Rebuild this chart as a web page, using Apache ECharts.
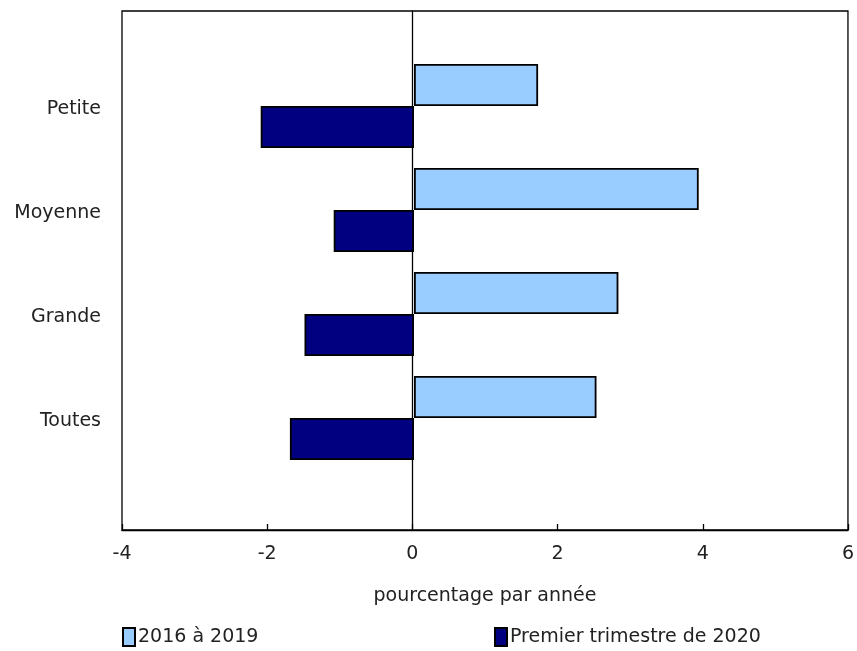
<!DOCTYPE html>
<html>
<head>
<meta charset="utf-8">
<script src="https://cdn.jsdelivr.net/npm/echarts@6/dist/echarts.min.js"></script>
<style>html,body{margin:0;padding:0;background:#fff}#c{width:857px;height:651px}</style>
</head>
<body>
<div id="c"></div>
<script>
const categories = ["Petite", "Moyenne", "Grande", "Toutes"];
const series2016to2019 = [1.7, 3.9, 2.8, 2.5];
const seriesQ1_2020 = [-2.1, -1.1, -1.5, -1.7];
const seriesNames = ["2016 à 2019", "Premier trimestre de 2020"];
const xTicks = [-4, -2, 0, 2, 4, 6];
const xTitle = "pourcentage par année";

const FONT = "DejaVu Sans";
const FS = 19;
const chart = echarts.init(document.getElementById('c'), null, {renderer: 'canvas'});
chart.setOption({
  animation: false,
  textStyle: {fontFamily: FONT, color: '#000'},
  grid: [
    {left: 122, right: 5, top: 11, bottom: 121, show: true, borderColor: '#000', borderWidth: 1.3, backgroundColor: 'transparent'},
    {left: 122, right: 5, top: 54, bottom: 181, show: false}
  ],
  xAxis: [
    {gridIndex: 0, type: 'value', min: xTicks[0], max: xTicks[xTicks.length-1], interval: 2,
     axisLine: {show: true, lineStyle: {color: '#000', width: 1.3}},
     axisTick: {show: true, inside: true, length: 6, lineStyle: {color: '#000', width: 1.3}},
     axisLabel: {fontFamily: FONT, fontSize: FS, color: '#222', margin: 15},
     splitLine: {show: false},
     name: xTitle, nameLocation: 'middle', nameGap: 57,
     nameTextStyle: {fontFamily: FONT, fontSize: FS, color: '#222'}},
    {gridIndex: 1, type: 'value', min: xTicks[0], max: xTicks[xTicks.length-1], interval: 2, show: false}
  ],
  yAxis: [
    {gridIndex: 0, type: 'category', data: ['a'], show: true,
     axisLine: {show: true, onZero: true, lineStyle: {color: '#000', width: 1.3}},
     axisTick: {show: false}, axisLabel: {show: false}, splitLine: {show: false}},
    {gridIndex: 1, type: 'category', data: categories, inverse: true,
     axisLine: {show: false}, axisTick: {show: false},
     axisLabel: {fontFamily: FONT, fontSize: FS, color: '#222', margin: 21, verticalAlign: 'middle',
       formatter: v => '{a|' + v + '}',
       rich: {a: {fontFamily: FONT, fontSize: FS, color: '#222', padding: [7, 0, 0, 0]}}}}
  ],
  legend: [
    {left: 122, top: 627, padding: 0, itemWidth: 12, itemHeight: 18, itemGap: 3, icon: 'rect',
     textStyle: {fontFamily: FONT, fontSize: FS, color: '#222', padding: [0, 0, 0, -2]},
     data: [seriesNames[0]], selectedMode: false},
    {left: 494, top: 627, padding: 0, itemWidth: 12, itemHeight: 18, itemGap: 3, icon: 'rect',
     textStyle: {fontFamily: FONT, fontSize: FS, color: '#222', padding: [0, 0, 0, -2]},
     data: [seriesNames[1]], selectedMode: false}
  ],
  series: [
    {name: seriesNames[0], type: 'bar', xAxisIndex: 1, yAxisIndex: 1, data: series2016to2019,
     barGap: '0%', barCategoryGap: '19%',
     itemStyle: {color: '#99CCFF', borderColor: '#000', borderWidth: 1.8}},
    {name: seriesNames[1], type: 'bar', xAxisIndex: 1, yAxisIndex: 1, data: seriesQ1_2020,
     barGap: '0%', barCategoryGap: '19%',
     itemStyle: {color: '#000080', borderColor: '#000', borderWidth: 1.8}}
  ]
});
</script>
</body>
</html>
